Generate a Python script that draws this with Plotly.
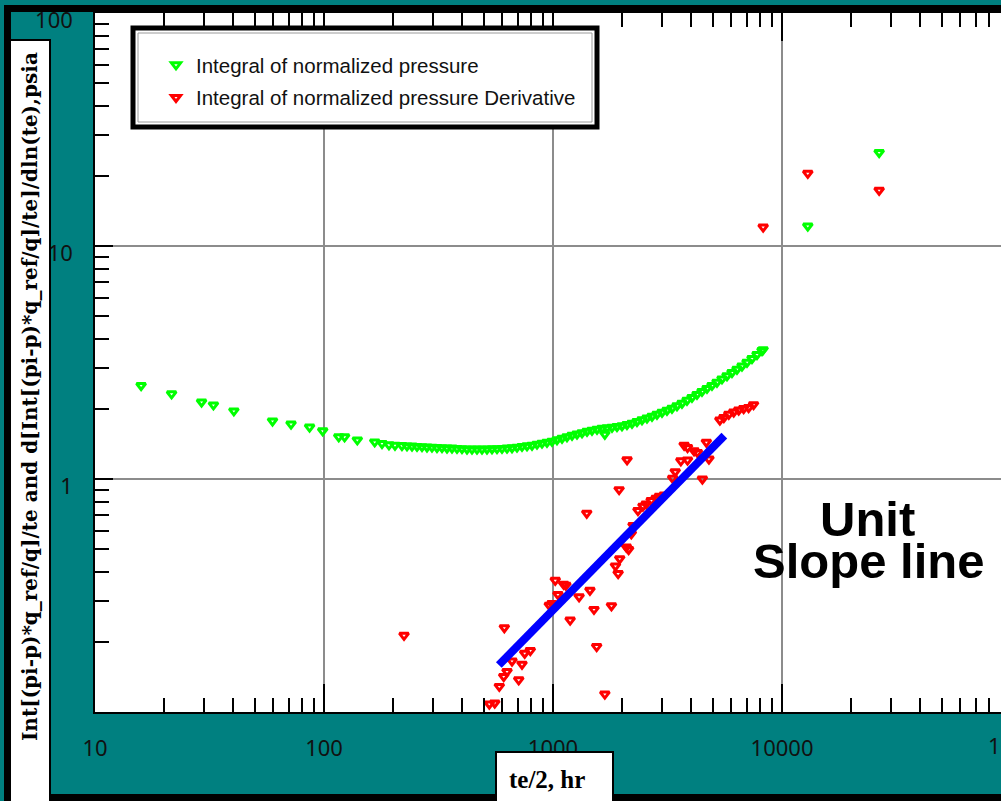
import plotly.graph_objects as go

# Integral of normalized pressure, te/2 (hr) vs psia
green_t = [15.9, 21.6, 29.2, 32.9, 40.4, 59.6, 71.8, 86.5, 98.7, 116, 123, 139.8, 166.5,
           179.2, 192.2, 204.2, 219.0, 230.4, 242.3, 254.8, 267.9, 281.7, 296.2, 311.5,
           327.6, 344.5, 362.2, 380.9, 400.5, 421.2, 442.9, 465.7, 489.8, 515.0, 541.6,
           569.5, 598.9, 629.8, 662.2, 696.4, 732.3, 770.1, 809.8, 851.5, 895.4, 941.5,
           990.0, 1041, 1095, 1151, 1211, 1273, 1339, 1408, 1480, 1557, 1637, 1684,
           1721, 1810, 1903, 2001, 2104, 2213, 2327, 2447, 2573, 2706, 2845, 2992, 3146,
           3308, 3479, 3658, 3847, 4045, 4254, 4473, 4704, 4946, 5201, 5470, 5752, 6048,
           6360, 6688, 7033, 7396, 7777, 8178, 8270, 12960, 26560]
green_v = [2.52, 2.32, 2.14, 2.08, 1.96, 1.775, 1.72, 1.67, 1.61, 1.517, 1.517, 1.472, 1.443,
           1.421, 1.402, 1.397, 1.391, 1.387, 1.384, 1.380, 1.377, 1.373, 1.370, 1.366,
           1.363, 1.359, 1.357, 1.353, 1.350, 1.346, 1.344, 1.344, 1.344, 1.346, 1.349,
           1.350, 1.353, 1.357, 1.362, 1.370, 1.380, 1.388, 1.397, 1.411, 1.425, 1.439,
           1.453, 1.475, 1.497, 1.519, 1.542, 1.560, 1.580, 1.603, 1.620, 1.636, 1.652, 1.557,
           1.660, 1.668, 1.680, 1.693, 1.713, 1.735, 1.764, 1.796, 1.827, 1.858, 1.895, 1.933, 1.971,
           2.011, 2.061, 2.113, 2.175, 2.240, 2.307, 2.377, 2.448, 2.522, 2.603, 2.689, 2.775, 2.866,
           2.957, 3.055, 3.169, 3.289, 3.421, 3.558, 3.59, 12.18, 25.2]

# Integral of normalized pressure derivative
red_t = [223.6, 527, 556.6, 582.9, 609.2, 629.8, 662.2, 708.5, 732.3, 752.2, 795.9, 613.0,
         963.4, 990.0, 1023, 1051, 1113, 1138, 1188, 1300, 1450, 1510, 1551, 1684, 1800,
         1874, 1925, 1956, 2091, 2139, 2198, 2236, 2350, 2470, 2553, 2683, 2819, 2914, 3063,
         1404, 1944, 2106, 3330, 3418, 3617, 3868, 3737, 3868, 4130, 4272, 4491, 4674, 4797,
         5354, 5572, 5855, 6154, 6470, 6800, 7147, 7513, 8274, 12960, 26560]
red_v = [0.2134, 0.1082, 0.1093, 0.1288, 0.1421, 0.1492, 0.1656, 0.1374, 0.1604, 0.1787, 0.1835, 0.2301,
         0.2873, 0.2922, 0.3675, 0.3194, 0.3534, 0.3499, 0.2480, 0.3122, 0.3332, 0.2756, 0.1909, 0.1194, 0.2857,
         0.4235, 0.3926, 0.4550, 0.5106, 0.4984, 0.5821, 0.6316, 0.7320, 0.7646, 0.7819, 0.8077, 0.8270, 0.8436, 0.8543,
         0.7134, 0.9000, 1.209, 1.007, 1.075, 1.197, 1.206, 1.397, 1.366, 1.321, 1.300, 1.000, 1.439, 1.218,
         1.792, 1.835, 1.895, 1.939, 1.978, 2.005, 2.025, 2.085, 12.06, 20.5, 17.35]

# Unit slope reference line
slope_t = [580, 5600]
slope_v = [0.159, 1.535]

x_tickvals = [10, 100, 1000, 10000]
x_ticktext = ["10", "100", "1000", "10000"]
y_tickvals = [1, 10, 100]
y_ticktext = ["1", "10", "100"]

W, H = 1001, 801
ML, MR, MT, MB = 95, 0, 13, 89
PW, PH = W - ML - MR, H - MT - MB
DECADE_PX = 229.0


def px(xp):
    return (xp - ML) / PW


def py(yp):
    return (H - MB - yp) / PH


TEAL = "#008080"
TICK_FONT = dict(family="Noto Sans, Liberation Sans, sans-serif", size=22, color="#111111")

fig = go.Figure()
fig.add_trace(go.Scatter(
    x=green_t, y=green_v, mode="markers", name="Integral of normalized pressure",
    legendgroup="g1",
    marker=dict(symbol="triangle-down-open", size=8, color="#00ff00", line=dict(width=3)),
))
fig.add_trace(go.Scatter(
    x=red_t, y=red_v, mode="markers", name="Integral of normalized pressure Derivative",
    legendgroup="g2",
    marker=dict(symbol="triangle-down-open", size=8, color="#ff0000", line=dict(width=3)),
))
fig.add_trace(go.Scatter(
    x=slope_t, y=slope_v, mode="lines", showlegend=False,
    line=dict(color="#0000ff", width=8),
))

minor_ticks = dict(ticks="inside", ticklen=14, tickwidth=2, tickcolor="black",
                   dtick="D1", showgrid=False)

fig.update_layout(
    width=W, height=H, template="none",
    margin=dict(l=ML, r=MR, t=MT, b=MB, pad=0),
    paper_bgcolor=TEAL, plot_bgcolor="white",
    showlegend=True,
    legend=dict(
        x=px(156), y=py(45), xanchor="left", yanchor="top",
        bgcolor="rgba(0,0,0,0)", borderwidth=0,
        traceorder="grouped", tracegroupgap=3,
        font=dict(family="Liberation Sans, sans-serif", size=20.5, color="#111111"),
    ),
    xaxis=dict(
        type="log", range=[1, 1 + PW / DECADE_PX], autorange=False,
        tickmode="array", tickvals=x_tickvals, ticktext=x_ticktext,
        ticks="inside", ticklen=28, tickwidth=2, tickcolor="black",
        showline=True, linecolor="black", linewidth=2, mirror="allticks",
        showgrid=True, gridcolor="#8c8c8c", gridwidth=2, zeroline=False,
        minor=minor_ticks, tickfont=TICK_FONT, ticklabelstandoff=16, automargin=False,
    ),
    yaxis=dict(
        type="log", range=[-1, 2], autorange=False,
        tickmode="array", tickvals=y_tickvals, ticktext=y_ticktext,
        ticks="inside", ticklen=18, tickwidth=2, tickcolor="black",
        showline=True, linecolor="black", linewidth=1.5, mirror=False,
        showgrid=True, gridcolor="#8c8c8c", gridwidth=2, zeroline=False,
        minor=minor_ticks, tickfont=TICK_FONT, ticklabelstandoff=16,
        ticklabelshift=7, automargin=False,
    ),
)

shapes = [
    # legend frame
    dict(type="rect", xref="paper", yref="paper", x0=px(133), x1=px(597), y0=py(127), y1=py(28),
         line=dict(color="black", width=5), fillcolor="white", layer="above"),
    dict(type="rect", xref="paper", yref="paper", x0=px(138), x1=px(592), y0=py(122), y1=py(33),
         line=dict(color="#9a9a9a", width=1), fillcolor="rgba(0,0,0,0)", layer="above"),
    # outer frame
    dict(type="rect", xref="paper", yref="paper", x0=px(7.5), x1=px(1012), y0=py(797.5), y1=py(8.5),
         line=dict(color="black", width=7), fillcolor="rgba(0,0,0,0)", layer="above"),
    # axis title boxes
    dict(type="rect", xref="paper", yref="paper", x0=px(10), x1=px(50), y0=py(802), y1=py(40),
         line=dict(color="black", width=2), fillcolor="white", layer="above"),
    dict(type="rect", xref="paper", yref="paper", x0=px(496), x1=px(613), y0=py(802), y1=py(752),
         line=dict(color="black", width=2), fillcolor="white", layer="above"),
]
fig.update_layout(shapes=shapes)

centered = dict(xref="paper", yref="paper", xanchor="center", yanchor="middle", showarrow=False)
annotations = [
    dict(text="<b>Int[(pi-p)*q_ref/q]/te and d[Int[(pi-p)*q_ref/q]/te]/dln(te),psia</b>",
         x=px(30), y=py(397), textangle=-90,
         font=dict(family="DejaVu Serif, serif", size=20, color="black"), **centered),
    dict(text="<b>te/2, hr</b>", x=px(547), y=py(779),
         font=dict(family="Liberation Serif, serif", size=25, color="black"), **centered),
    dict(text="<b>Unit</b>", x=px(867), y=py(519),
         font=dict(family="Liberation Sans, sans-serif", size=49, color="black"), **centered),
    dict(text="<b>Slope line</b>", x=px(868), y=py(561),
         font=dict(family="Liberation Sans, sans-serif", size=49, color="black"), **centered),
    dict(text="100000", x=px(986), y=py(745), xref="paper", yref="paper", xanchor="left",
         yanchor="middle", showarrow=False, font=TICK_FONT),
]
fig.update_layout(annotations=annotations)

fig.write_html("out.html")
